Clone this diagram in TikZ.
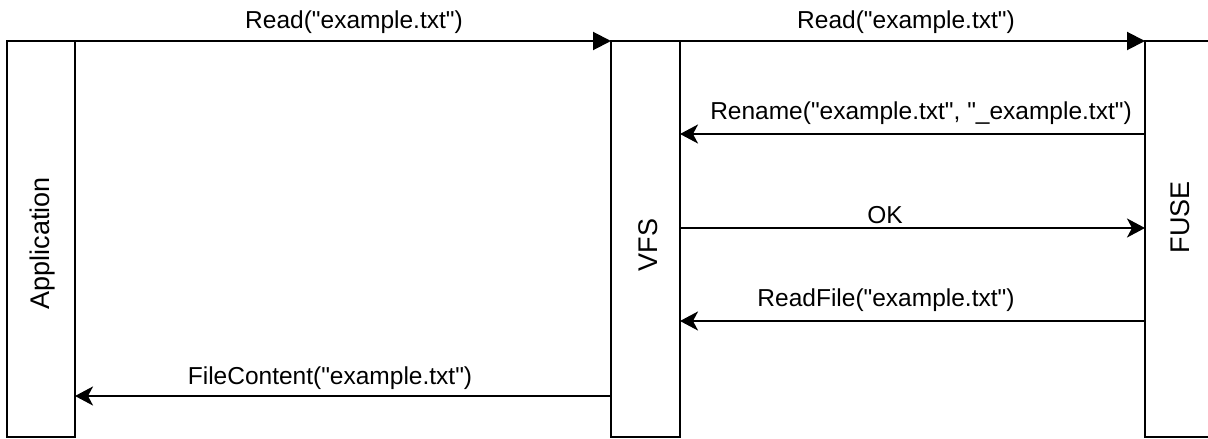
\documentclass[tikz,border=0pt]{standalone}
\usepackage{fontspec}
\setmainfont{Liberation Sans}[Ligatures=TeXOff]
\usetikzlibrary{arrows.meta}
\begin{document}
\begin{tikzpicture}[x=1pt,y=-1pt,
  lane/.style={draw=black,line width=2pt,fill=white,minimum width=#1,minimum height=396pt,inner sep=0pt,outer sep=0pt},
  lbl/.style={inner sep=0pt,font=\fontsize{24.5}{29}\selectfont},
  vlbl/.style={inner sep=0pt,rotate=90,font=\fontsize{27}{32}\selectfont},
  msg/.style={line width=2pt,-{Stealth[length=18pt,width=19pt,inset=5pt]}},
  topmsg/.style={line width=2pt,-{Triangle[length=18pt,width=18pt]}}]
\useasboundingbox (0,0) rectangle (1208,439);
\clip (0,0) rectangle (1208,439);
\node[lane=68pt] (app) at (41,239) {};
\node[lane=69pt] (vfs) at (645.5,239) {};
\node[lane=90pt] (fuse) at (1190,239) {};
\node[vlbl] (tapp) at (43,243) {Application};
\node[vlbl] (tvfs) at (648,245) {VFS};
\node[vlbl] (tfuse) at (1180,217) {FUSE};
% messages
\draw[topmsg] (app.north west) -- (vfs.north west);
\node[lbl] (l1) at (354,22) {Read("example.txt")};
\draw[topmsg] (vfs.north east) -- (fuse.north west);
\node[lbl] (l2) at (906,22) {Read("example.txt")};
\draw[msg] (fuse.west |- 0,134) -- (vfs.east |- 0,134);
\node[lbl] (l3) at (921,113) {Rename("example.txt", "\_example.txt")};
\draw[msg] (vfs.east |- 0,228) -- (fuse.west |- 0,228);
\node[lbl] (l4) at (885,215) {OK};
\draw[msg] (fuse.west |- 0,321) -- (vfs.east |- 0,321);
\node[lbl] (l5) at (886,300) {ReadFile("example.txt")};
\draw[msg] (vfs.west |- 0,396) -- (app.east |- 0,396);
\node[lbl] (l6) at (330,378) {FileContent("example.txt")};
\end{tikzpicture}
\end{document}
